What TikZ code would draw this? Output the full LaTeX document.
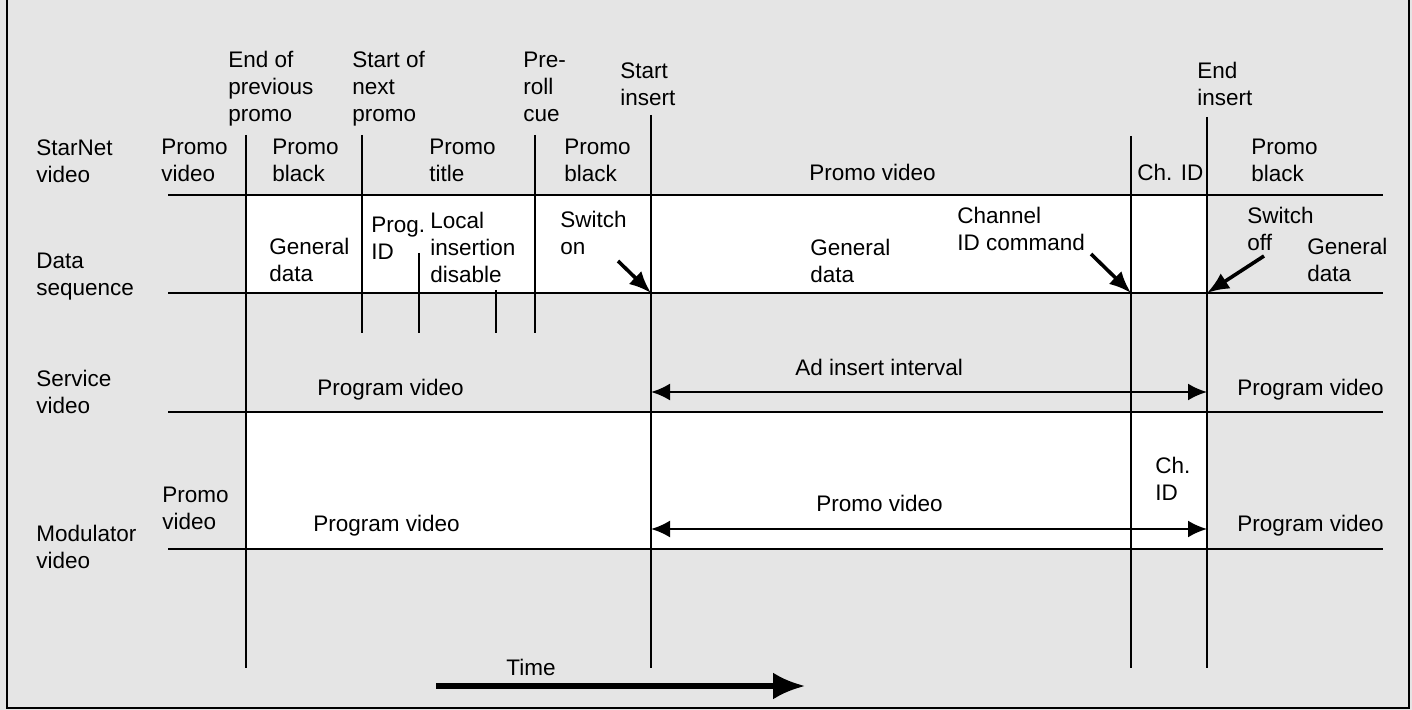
\documentclass[tikz,border=0pt]{standalone}
\usepackage{fontspec}
\setmainfont{Liberation Sans}
\usetikzlibrary{arrows.meta}
\definecolor{paper}{RGB}{229,229,229}
\begin{document}
\begin{tikzpicture}[x=0.5pt,y=-0.5pt,
  lbl/.style={anchor=north west, inner sep=0pt, align=left,
              font=\fontsize{11.25}{13.5}\selectfont},
  rule/.style={line width=1.1pt},
  tick/.style={line width=1.0pt},
  pointer/.style={line width=1.8pt, -{Latex[length=11pt,width=9pt]}},
  span/.style={line width=1.2pt, {Latex[length=9.5pt,width=8.5pt]}-{Latex[length=9.5pt,width=8.5pt]}},
  timearrow/.style={line width=2.6pt, -{Latex[length=16pt,width=13.5pt]}}]

% page and frame
\fill[paper] (0,0) rectangle (1412,710);
\useasboundingbox (0,0) rectangle (1412,710);
\draw[line width=1pt] (7,0) -- (7,708) -- (1409,708) -- (1409,0);

% white bands (data sequence and modulator video)
\fill[white] (246,195) rectangle (1207,293);
\fill[white] (246,412) rectangle (1207,549);

% channel baselines
\foreach \n/\y in {star/195, data/293, serv/412, mod/549}{
  \coordinate (\n L) at (168,\y);
  \coordinate (\n R) at (1383,\y);
  \draw[rule] (\n L) -- (\n R);
}

% event lines
\coordinate (eprevT) at (246,135);  \coordinate (eprevB) at (246,668);
\coordinate (snextT) at (362,135);  \coordinate (snextB) at (362,333);
\coordinate (progT)  at (419,253);  \coordinate (progB)  at (419,333);
\coordinate (lidT)   at (496,290);  \coordinate (lidB)   at (496,333);
\coordinate (cueT)   at (535,135);  \coordinate (cueB)   at (535,333);
\coordinate (sinsT)  at (651,115);  \coordinate (sinsB)  at (651,668);
\coordinate (chidT)  at (1131,136); \coordinate (chidB)  at (1131,668);
\coordinate (einsT)  at (1207,117); \coordinate (einsB)  at (1207,668);
\draw[rule] (eprevT) -- (eprevB);
\draw[rule] (snextT) -- (snextB);
\draw[tick] (progT) -- (progB);
\draw[tick] (lidT) -- (lidB);
\draw[rule] (cueT) -- (cueB);
\draw[rule] (sinsT) -- (sinsB);
\draw[rule] (chidT) -- (chidB);
\draw[rule] (einsT) -- (einsB);

% event captions
\node[lbl] (capEnd)   at (228,51)  {End of\\previous\\promo};
\node[lbl] (capStart) at (352,51)  {Start of\\next\\promo};
\node[lbl] (capCue)   at (523,52)  {Pre-\\roll\\cue};
\node[lbl] (capSins)  at (620,62)  {Start\\insert};
\node[lbl] (capEins)  at (1197,62) {End\\insert};

% row titles
\node[lbl] (rowStar) at (36,139) {StarNet\\video};
\node[lbl] (rowData) at (36,253) {Data\\sequence};
\node[lbl] (rowServ) at (36,370) {Service\\video};
\node[lbl] (rowMod)  at (36,525) {Modulator\\video};

% StarNet video row
\node[lbl] (sv1) at (161,139)  {Promo\\video};
\node[lbl] (sv2) at (272,139)  {Promo\\black};
\node[lbl] (sv3) at (429,139)  {Promo\\title};
\node[lbl] (sv4) at (564,139)  {Promo\\black};
\node[lbl] (sv5) at (809,164)  {Promo video};
\node[lbl] (sv6) at (1137,164) {Ch. ID};
\node[lbl] (sv7) at (1251,139) {Promo\\black};

% data sequence row
\node[lbl] (ds1) at (269,238)  {General\\data};
\node[lbl] (ds2) at (371,217)  {Prog.\\ID};
\node[lbl] (ds3) at (430,212)  {Local\\insertion\\disable};
\node[lbl] (ds4) at (560,211)  {Switch\\on};
\node[lbl] (ds5) at (810,239)  {General\\data};
\node[lbl] (ds6) at (957,207)  {Channel\\ID command};
\node[lbl] (ds7) at (1247,207) {Switch\\off};
\node[lbl] (ds8) at (1307,238) {General\\data};

\coordinate (onTail)  at (618,261);
\coordinate (onHead)  at (651,293);
\coordinate (cmdTail) at (1091,254);
\coordinate (cmdHead) at (1131,293);
\coordinate (offTail) at (1264,256);
\coordinate (offHead) at (1207,293);
\draw[pointer] (onTail) -- (onHead);
\draw[pointer] (cmdTail) -- (cmdHead);
\draw[pointer] (offTail) -- (offHead);

% service video row
\node[lbl] (se1) at (317,379)  {Program video};
\node[lbl] (se2) at (795,359)  {Ad insert interval};
\node[lbl] (se3) at (1237,379) {Program video};
\coordinate (adL) at (651,392);
\coordinate (adR) at (1207,392);
\draw[span] (adL) -- (adR);

% modulator video row
\node[lbl] (mo1) at (162,487)  {Promo\\video};
\node[lbl] (mo2) at (313,515)  {Program video};
\node[lbl] (mo3) at (816,495)  {Promo video};
\node[lbl] (mo4) at (1155,457) {Ch.\\ID};
\node[lbl] (mo5) at (1237,515) {Program video};
\coordinate (pvL) at (651,529);
\coordinate (pvR) at (1207,529);
\draw[span] (pvL) -- (pvR);

% time axis
\node[lbl] (timeLbl) at (506,659) {Time};
\coordinate (tL) at (436,686);
\coordinate (tR) at (805,686);
\draw[timearrow] (tL) -- (tR);
\end{tikzpicture}
\end{document}
